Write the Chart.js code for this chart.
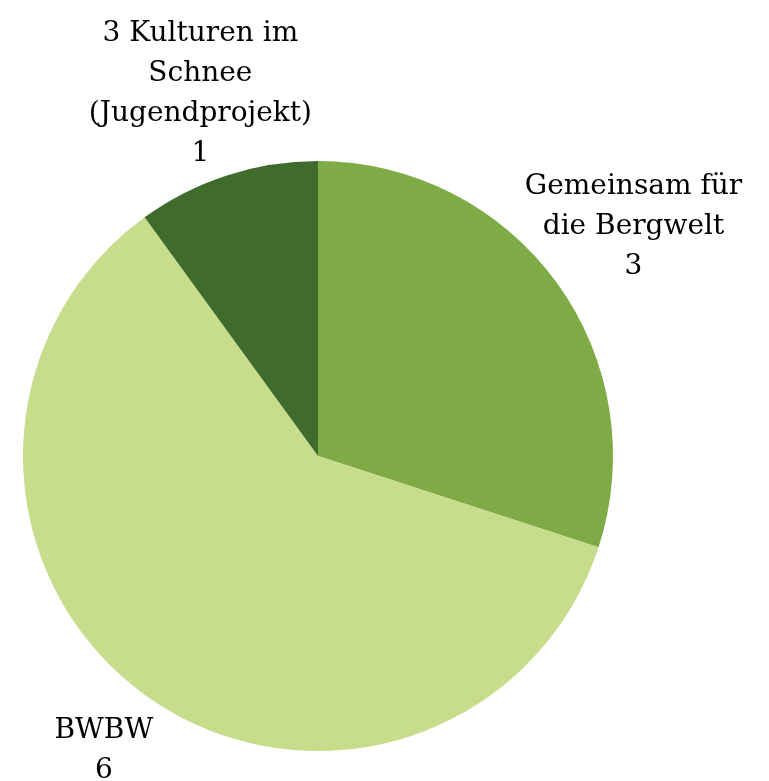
<!DOCTYPE html>
<html>
<head>
<meta charset="utf-8">
<script src="https://cdn.jsdelivr.net/npm/chart.js@4"></script>
<style>
 html,body{margin:0;padding:0;background:#fff}
 #wrap{width:769px;height:781px;position:relative}
</style>
</head>
<body>
<div id="wrap"><canvas id="chart"></canvas></div>
<script>
const labels=[['Gemeinsam für','die Bergwelt'],['BWBW'],['3 Kulturen im','Schnee','(Jugendprojekt)']];
const values=[3,6,1];
const colors=['#7eab46','#c7dd8c','#3f6b2c'];

// Beschriftung ausserhalb der Segmente (Name + Wert)
const outsideLabels={
 id:'outsideLabels',
 afterDatasetsDraw(chart,args,opts){
  const ctx=chart.ctx;
  const meta=chart.getDatasetMeta(0);
  ctx.save();
  ctx.font=opts.font;
  ctx.fillStyle='#000';
  ctx.textAlign='center';
  ctx.textBaseline='middle';
  meta.data.forEach((arc,i)=>{
   const mid=(arc.startAngle+arc.endAngle)/2;
   const d=arc.outerRadius*opts.dist[i];
   const cx=arc.x+Math.cos(mid)*d;
   const cy=arc.y+Math.sin(mid)*d;
   const lines=labels[i].concat([String(values[i])]);
   const lh=opts.lineHeight;
   const y0=cy-(lines.length-1)*lh/2;
   lines.forEach((t,j)=>ctx.fillText(t,cx,y0+j*lh));
  });
  ctx.restore();
 }
};

chart=new Chart(document.getElementById('chart'),{
 type:'pie',
 data:{labels:labels.map(l=>l.join(' ')),datasets:[{data:values,backgroundColor:colors,borderWidth:0}]},
 options:{
  responsive:true,maintainAspectRatio:false,animation:false,
  layout:{padding:{left:23,right:156,top:161,bottom:30}},
  plugins:{
   legend:{display:false},
   tooltip:{enabled:false},
   outsideLabels:{font:'28px "DejaVu Serif", serif',lineHeight:40,dist:[1.322,1.235,1.29]}
  }
 },
 plugins:[outsideLabels]
});
</script>
</body>
</html>
